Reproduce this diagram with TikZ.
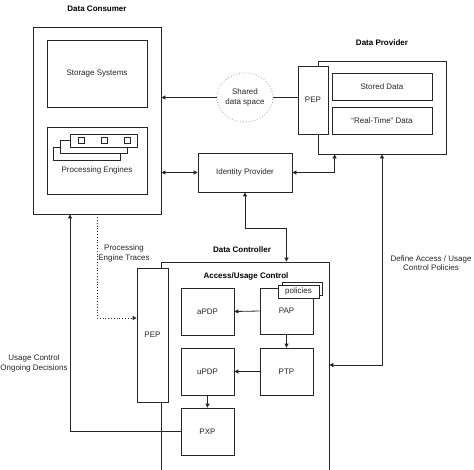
\documentclass[tikz,border=0pt]{standalone}
\usepackage{fontspec}
\setmainfont{Liberation Sans}
\usetikzlibrary{arrows.meta,calc,shapes.geometric}
\begin{document}
\begin{tikzpicture}[x=1pt,y=-1pt,
  box/.style={draw=black!85,line width=0.8pt,fill=white,rectangle,inner sep=0pt,font=\fontsize{8}{9.5}\selectfont,text=black!85},
  lbl/.style={font=\fontsize{8}{9.5}\selectfont,text=black!85,align=center,inner sep=0pt},
  ttl/.style={font=\bfseries\fontsize{8}{9.5}\selectfont,text=black,inner sep=0pt},
  ln/.style={draw=black!85,line width=0.8pt},
  arr/.style={ln,-{Triangle[length=4pt,width=4pt]}},
  arrb/.style={ln,{Triangle[length=4pt,width=4pt]}-{Triangle[length=4pt,width=4pt]}},
]
\clip (0,0) rectangle (474,469);
\fill[white] (0,0) rectangle (474,469);

% Data Consumer
\node[ttl] (tcons) at (97,9) {Data Consumer};
\node[box,minimum width=128pt,minimum height=187pt] (consumer) at (97,120.5) {};
\node[box,minimum width=100pt,minimum height=67pt] (storage) at (97,73.5) {Storage Systems};
\node[box,minimum width=100pt,minimum height=67pt] (proc) at (97,160.5) {};
\node[box,minimum width=67pt,minimum height=13pt] (st3) at (87,154) {};
\node[box,minimum width=67pt,minimum height=13pt] (st2) at (94,147) {};
\node[box,minimum width=67pt,minimum height=13pt] (st1) at (103.5,140.5) {};
\node[box,minimum width=6pt,minimum height=6pt] (sq1) at (81,140.5) {};
\node[box,minimum width=6pt,minimum height=6pt] (sq2) at (104,140.5) {};
\node[box,minimum width=6pt,minimum height=6pt] (sq3) at (127,140.5) {};
\node[lbl] (proctxt) at (97,170.5) {Processing Engines};

% Shared data space
\node[ellipse,draw=black!30,dotted,line width=0.9pt,minimum width=56pt,minimum height=49pt,inner sep=0pt,lbl] (shared) at (245,97.5) {Shared\\data space};

% Data Provider
\node[ttl] (tprov) at (382,43) {Data Provider};
\node[box,minimum width=128pt,minimum height=93pt] (provider) at (382,107.5) {};
\node[box,minimum width=30pt,minimum height=68pt] (pepT) at (313,100) {PEP};
\node[box,minimum width=100pt,minimum height=27pt] (stored) at (382,86.5) {Stored Data};
\node[box,minimum width=100pt,minimum height=27pt] (realtime) at (382,120.5) {``Real-Time'' Data};

% Identity Provider
\node[box,minimum width=94pt,minimum height=39pt] (identity) at (245,172.5) {Identity Provider};

% Data Controller
\node[ttl] (tctrl) at (242,250) {Data Controller};
\node[box,minimum width=168pt,minimum height=218pt] (controller) at (245,371) {};
\node[ttl] (tauc) at (246,276) {Access/Usage Control};
\node[box,minimum width=31pt,minimum height=134pt] (pepC) at (152.5,335) {PEP};
\node[box,minimum width=53pt,minimum height=47pt] (apdp) at (207.5,311.5) {aPDP};
\node[box,minimum width=53pt,minimum height=47pt] (updp) at (207.5,371.5) {uPDP};
\node[box,minimum width=53pt,minimum height=47pt] (pxp) at (207.5,431.5) {PXP};
\node[box,minimum width=53pt,minimum height=46pt] (pap) at (286.5,311) {PAP};
\node[box,minimum width=53pt,minimum height=47pt] (ptp) at (286.5,371.5) {PTP};
\node[box,minimum width=40pt,minimum height=13pt] (pol2) at (302,288.5) {};
\node[box,minimum width=41pt,minimum height=13pt] (pol1) at (298.5,291.5) {policies};

% Connectors
\draw[arr] (shared.west) -- (shared.west -| consumer.east);
\draw[ln] (shared.east) -- (pepT.west |- shared.east);
\draw[arrb] (consumer.east |- identity.west) -- (identity.west);
\draw[arrb] (identity.east) -| ([xshift=17pt]provider.south west);
\draw[arrb] (identity.south) -- ++(0,35.5) -| (pap.north |- controller.north);
\draw[arrb] (provider.south) |- ([yshift=6.5pt]ptp.east -| controller.east);
\draw[arr] (pap.west) -- (apdp.east);
\draw[arr] (ptp.west) -- (updp.east);
\draw[arr] (pap.south) -- (ptp.north);
\draw[arr] (updp.south) -- (pxp.north);
\draw[arr,dotted] (consumer.south) |- ([yshift=17pt]pepC.west);
\draw[arr] (pxp.west) -| ([xshift=-27pt]consumer.south);

% Labels
\node[lbl] (lpet) at (124,253.5) {Processing\\Engine Traces};
\node[lbl] (luc) at (34,363.5) {Usage Control\\Ongoing Decisions};
\node[lbl] (ldef) at (431,263) {Define Access / Usage\\Control Policies};
\end{tikzpicture}
\end{document}
